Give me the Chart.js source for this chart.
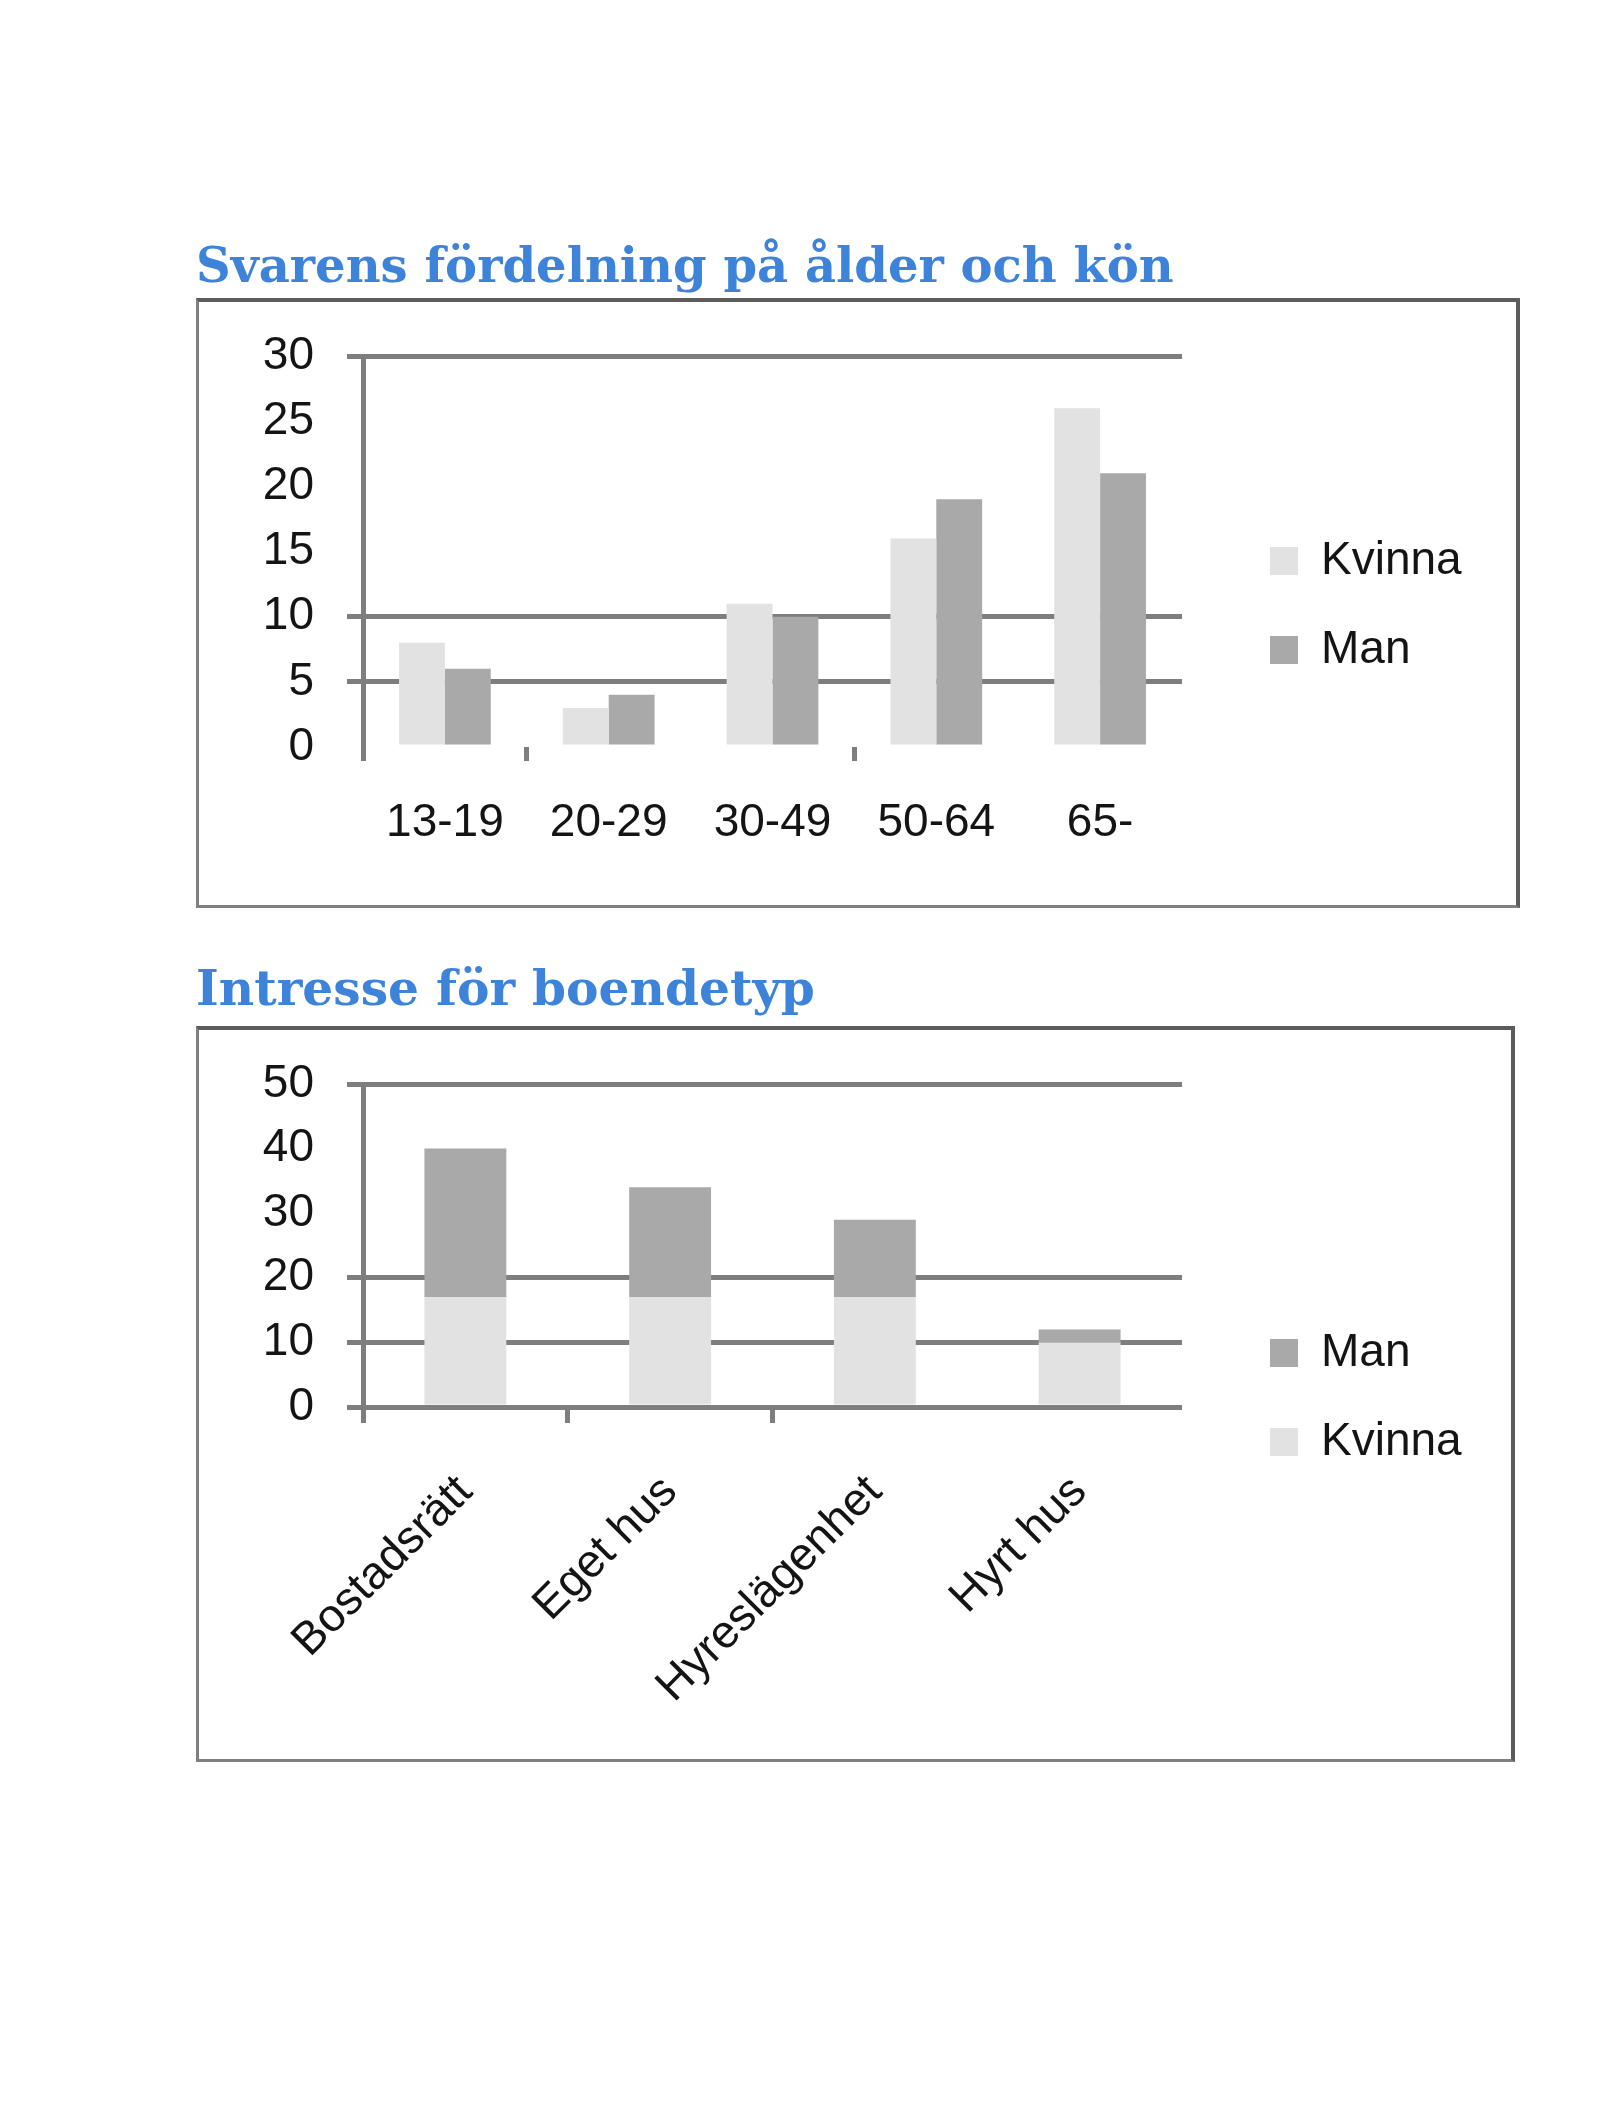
<!DOCTYPE html>
<html>
<head>
<meta charset="utf-8">
<script src="https://cdn.jsdelivr.net/npm/chart.js@4.4.1/dist/chart.umd.min.js"></script>
<style>
  html, body { margin: 0; padding: 0; background: #fff; }
  body { width: 1607px; height: 2125px; position: relative; overflow: hidden; }
  .title {
    position: absolute; left: 196px; margin: 0;
    font-family: "DejaVu Serif", serif; font-weight: bold;
    color: #3d83d9; white-space: nowrap; line-height: 1;
  }
  .box {
    position: absolute; box-sizing: border-box; background: #fff;
    border-left: 3px solid #808080; border-bottom: 3px solid #808080;
    border-top: 4px solid #5c5c5c; border-right: 4px solid #5c5c5c;
  }
  .box canvas { display: block; }
</style>
</head>
<body>

<h2 class="title" id="t1">Svarens fördelning på ålder och kön</h2>
<div class="box" style="left:196px; top:298px; width:1324px; height:610px;">
  <canvas id="ageChart" width="1317" height="603"></canvas>
</div>

<h2 class="title" id="t2">Intresse för boendetyp</h2>
<div class="box" style="left:196px; top:1026px; width:1319px; height:736px;">
  <canvas id="housingChart" width="1312" height="729"></canvas>
</div>

<script>
// --- data ---
const ageGroups = ['13-19', '20-29', '30-49', '50-64', '65-'];
const ageKvinna = [8, 3, 11, 16, 26];
const ageMan = [6, 4, 10, 19, 21];

const housingTypes = ['Bostadsrätt', 'Eget hus', 'Hyreslägenhet', 'Hyrt hus'];
const housingKvinna = [17, 17, 17, 10];
const housingMan = [23, 17, 12, 2];

// the original only shows some of the gridlines / tick marks
const ageGridShown = [30, 10, 5];
const ageXTicksShown = [0, 1, 3];
const housingGridShown = [50, 20, 10, 0];
const housingXTicksShown = [0, 1, 2];

const FONT = '"Liberation Sans", Arimo, Arial, sans-serif';
const TEXT = '#141414';
const GRID = '#7e7e7e';
const KVINNA = '#e2e2e2';
const MAN = '#a9a9a9';
const NONE = 'rgba(0,0,0,0)';

// fixed legend width + nudge, so the plot area keeps its place
const legendSpot = {
    id: 'legendSpot',
    beforeLayout(chart, args, opts) {
        const lg = chart.legend;
        if (lg && !lg._spotFit) {
            const fit = lg.fit;
            lg.fit = function () { fit.call(this); this.width = opts.width; };
            lg._spotFit = true;
        }
    },
    afterLayout(chart, args, opts) {
        const lg = chart.legend;
        lg.left += opts.dx; lg.right += opts.dx;
        lg.top += opts.dy; lg.bottom += opts.dy;
    }
};

const yGrid = shown => ctx => (ctx.tick && shown.includes(ctx.tick.value)) ? GRID : NONE;
const xTicks = shown => ctx => shown.includes(ctx.index) ? GRID : NONE;

// fixed y-axis width; label overhang should not push the plot down
const yFit = s => { s.width = 164; s.paddingTop = 0; s.paddingBottom = 0; };

const labelFont = { family: FONT, size: 46 };

new Chart(document.getElementById('ageChart'), {
    type: 'bar',
    data: {
        labels: ageGroups,
        datasets: [
            { label: 'Kvinna', data: ageKvinna, backgroundColor: KVINNA },
            { label: 'Man', data: ageMan, backgroundColor: MAN }
        ]
    },
    options: {
        responsive: false,
        animation: false,
        layout: { padding: { top: 54, right: 0, bottom: 0, left: 0 } },
        datasets: { bar: { categoryPercentage: 0.56, barPercentage: 1 } },
        scales: {
            x: {
                grid: { drawOnChartArea: false, tickLength: 14, lineWidth: 5, color: xTicks(ageXTicksShown) },
                border: { display: false },
                ticks: { color: TEXT, font: labelFont, padding: 35, maxRotation: 0 },
                afterFit: s => { s.height = 158; }
            },
            y: {
                min: 0, max: 30,
                ticks: { stepSize: 5, color: TEXT, font: labelFont, padding: 33 },
                grid: { lineWidth: 5, tickLength: 16, color: yGrid(ageGridShown) },
                border: { color: GRID, width: 5 },
                afterFit: yFit
            }
        },
        plugins: {
            legend: {
                position: 'right',
                labels: { boxWidth: 28, boxHeight: 28, padding: 43, color: TEXT, font: labelFont }
            },
            tooltip: { enabled: false },
            legendSpot: { width: 334, dx: 45, dy: -25 }
        }
    },
    plugins: [legendSpot]
});

new Chart(document.getElementById('housingChart'), {
    type: 'bar',
    data: {
        labels: housingTypes,
        datasets: [
            { label: 'Kvinna', data: housingKvinna, backgroundColor: KVINNA },
            { label: 'Man', data: housingMan, backgroundColor: MAN }
        ]
    },
    options: {
        responsive: false,
        animation: false,
        layout: { padding: { top: 54, right: 0, bottom: 0, left: 0 } },
        datasets: { bar: { categoryPercentage: 0.4, barPercentage: 1 } },
        scales: {
            x: {
                stacked: true,
                grid: { drawOnChartArea: false, tickLength: 16, lineWidth: 5, color: xTicks(housingXTicksShown) },
                border: { display: false },
                ticks: { color: TEXT, font: labelFont, padding: 42, minRotation: 45, maxRotation: 45, autoSkip: false },
                afterFit: s => { s.height = 352; }
            },
            y: {
                stacked: true,
                min: 0, max: 50,
                ticks: { stepSize: 10, color: TEXT, font: labelFont, padding: 33 },
                grid: { lineWidth: 5, tickLength: 16, color: yGrid(housingGridShown) },
                border: { color: GRID, width: 5 },
                afterFit: yFit
            }
        },
        plugins: {
            legend: {
                position: 'right',
                reverse: true,
                labels: { boxWidth: 28, boxHeight: 28, padding: 43, color: TEXT, font: labelFont }
            },
            tooltip: { enabled: false },
            legendSpot: { width: 329, dx: 45, dy: -24 }
        }
    },
    plugins: [legendSpot]
});

// size the headings to the width they have in the original, then sit them on their baseline
function placeTitle(id, width, baseline) {
    const el = document.getElementById(id);
    el.style.fontSize = '40px';
    const size = 40 * width / el.getBoundingClientRect().width;
    el.style.fontSize = size + 'px';
    el.style.top = (baseline - 0.85 * size) + 'px';
}
placeTitle('t1', 978, 282);
placeTitle('t2', 619, 1005);
</script>
</body>
</html>
